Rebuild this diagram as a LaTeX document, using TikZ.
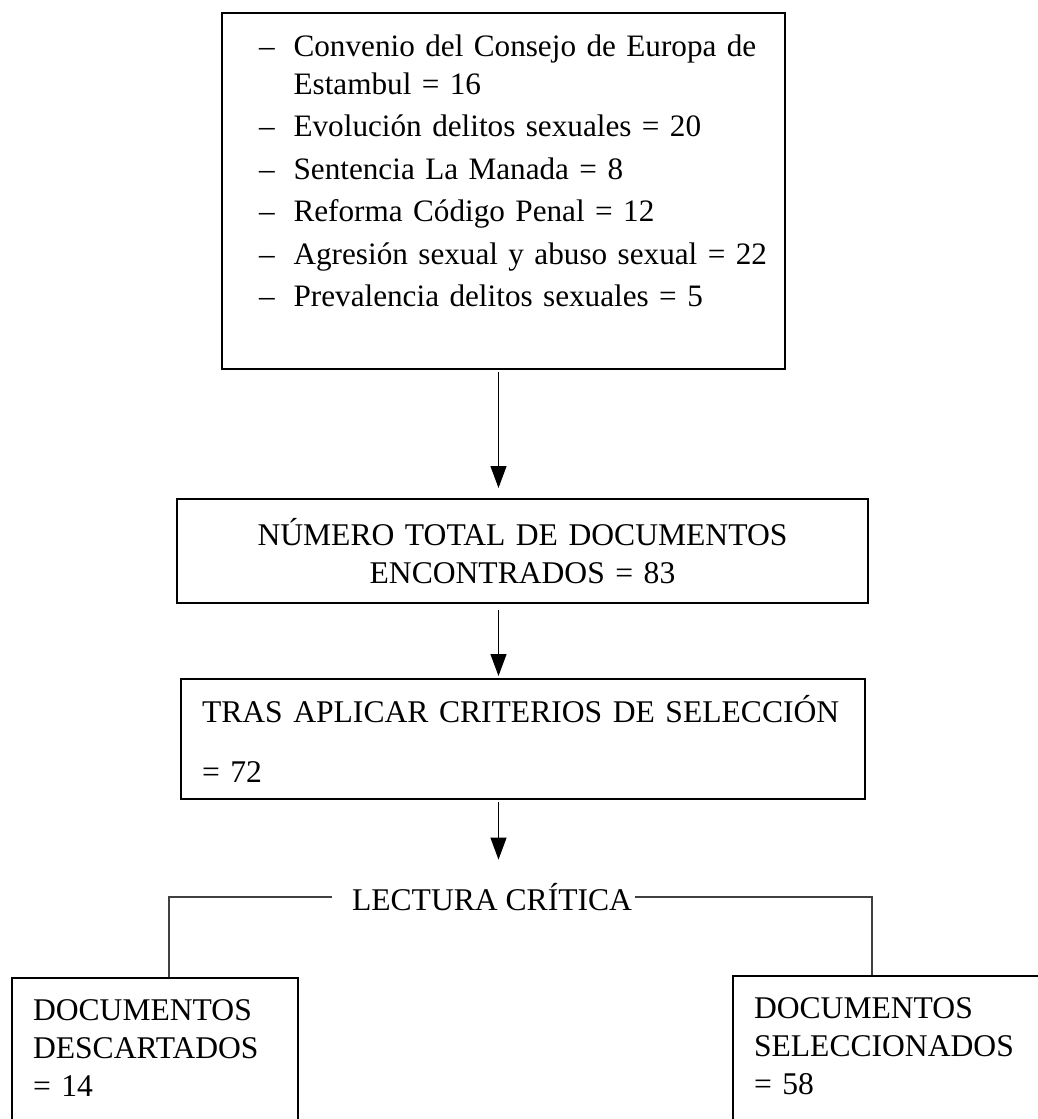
\documentclass[tikz,border=0pt]{standalone}
\usepackage{fontspec}
\setmainfont{Liberation Serif}
\usetikzlibrary{arrows.meta}

\begin{document}
\begin{tikzpicture}[x=0.5pt,y=-0.5pt,
    every node/.style={font=\fontsize{15.8pt}{19pt}\selectfont},
    caja/.style={draw,line width=1pt,anchor=north west,inner ysep=0pt},
    flecha/.style={line width=0.6pt,-{Triangle[width=8pt,length=11pt]}},
    linea/.style={line width=0.6pt,draw=black!75}]
  \useasboundingbox (0,0) rectangle (1038,1119);
  \clip (0,0) rectangle (1038,1119);
  \coordinate (eje) at (498.5,0);
  \coordinate (izq) at (169,0);
  \coordinate (der) at (872,0);
  \node[caja,minimum width=281.5pt,minimum height=178pt,text width=244.5pt,inner xsep=18.5pt,align=left,
        font=\fontsize{15.6pt}{19pt}\selectfont] (fuentes) at (221,12) {%
    \begin{tabular}{@{}l@{\hspace{9.5pt}}l@{}}
      -- & Convenio del Consejo de Europa de\\
         & Estambul = 16\\[2.25pt]
      -- & Evolución delitos sexuales = 20\\[2.25pt]
      -- & Sentencia La Manada = 8\\[2.25pt]
      -- & Reforma Código Penal = 12\\[2.25pt]
      -- & Agresión sexual y abuso sexual = 22\\[2.25pt]
      -- & Prevalencia delitos sexuales = 5\\[17.3pt]
    \end{tabular}};
  \node[caja,minimum width=345.5pt,minimum height=52pt,text width=325pt,inner xsep=10.25pt,align=center] (total) at (176,498) {NÚMERO TOTAL DE DOCUMENTOS\\ENCONTRADOS = 83};
  \node[caja,minimum width=342pt,minimum height=60pt,text width=321pt,inner xsep=10.5pt,align=left] (criterios) at (180,678) {\mbox{TRAS APLICAR CRITERIOS DE SELECCIÓN}\\[11pt]= 72};
  \node[inner sep=0pt,text height=13pt,text depth=0pt] (lectura) at (492,897) {LECTURA CRÍTICA};
  \node[caja,text width=122pt,inner xsep=10.5pt,inner ysep=11pt,text depth=60pt,align=left] (descartados) at (11,977) {DOCUMENTOS\\DESCARTADOS\\= 14};
  \node[caja,text width=150pt,inner xsep=10.5pt,inner ysep=11pt,text depth=60pt,align=left] (seleccionados) at (732,975) {DOCUMENTOS\\SELECCIONADOS\\= 58};
  \path
    (eje |- fuentes.south) edge[flecha,shorten <=1pt,shorten >=5pt] (eje |- total.north)
    (eje |- total.south) edge[flecha,shorten <=3pt,shorten >=1pt] (eje |- criterios.north)
    (eje |- criterios.south) edge[flecha,shorten <=1pt,shorten >=12pt] (eje |- lectura.north);
  \draw[linea] ([xshift=-10pt]lectura.west) -| (izq |- descartados.north);
  \draw[linea] ([xshift=1.5pt]lectura.east) -| (der |- seleccionados.north);
\end{tikzpicture}
\end{document}
